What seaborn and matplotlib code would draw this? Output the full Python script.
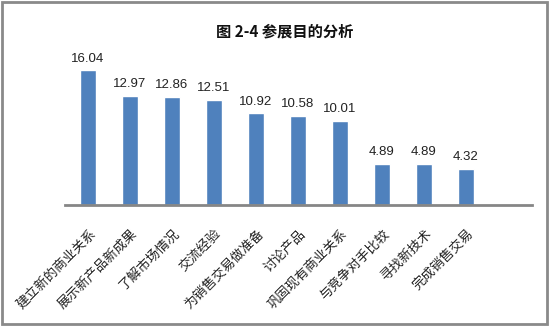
import matplotlib
matplotlib.use("Agg")
import matplotlib.pyplot as plt
import matplotlib.transforms as mtransforms
import seaborn as sns
import pandas as pd
from matplotlib.patches import Rectangle

categories = ["建立新的商业关系", "展示新产品新成果", "了解市场情况", "交流经验",
              "为销售交易做准备", "讨论产品", "巩固现有商业关系", "与竞争对手比较",
              "寻找新技术", "完成销售交易"]
values = [16.04, 12.97, 12.86, 12.51, 10.92, 10.58, 10.01, 4.89, 4.89, 4.32]
value_labels = ["16.04", "12.97", "12.86", "12.51", "10.92", "10.58", "10.01", "4.89", "4.89", "4.32"]
title = "图 2-4 参展目的分析"

sns.set_theme(style="white")
plt.rcParams['font.family'] = ['Noto Sans CJK SC', 'DejaVu Sans']

df = pd.DataFrame({"cat": categories, "val": values})

fig = plt.figure(figsize=(5.5, 3.27), dpi=100)
ax = fig.add_axes([0.118, 0.373, 0.849, 0.462])
sns.barplot(data=df, x="cat", y="val", color="#4F81BD", saturation=1, width=0.38, ax=ax)

ax.set_xlim(-0.55, 10.57)
ax.set_ylim(0, 18)
for s in ["top", "right", "left"]:
    ax.spines[s].set_visible(False)
ax.spines["bottom"].set_color("#868686")
ax.spines["bottom"].set_linewidth(2)
ax.set_yticks([])
ax.set_xlabel("")
ax.set_ylabel("")
ax.tick_params(axis="x", length=0, pad=16)
ax.set_xticks(range(len(categories)))
ax.set_xticklabels(categories, rotation=45, ha="right", va="top",
                   rotation_mode="anchor", fontsize=9.5, color="#222222",
                   fontweight="light")
offset = mtransforms.ScaledTranslation(1 / 100, 0, fig.dpi_scale_trans)
for lab in ax.get_xticklabels():
    lab.set_transform(lab.get_transform() + offset)

for i, (v, t) in enumerate(zip(values, value_labels)):
    ax.text(i, v + 0.7, t, ha="center", va="bottom", fontsize=9.5,
            color="#222222", family=["Liberation Sans", "DejaVu Sans"])

fig.text(0.517, 0.905, title, ha="center", va="center", fontsize=11,
         fontweight="bold", color="#111111")

fig.patches.append(Rectangle((0.004, 0.008), 0.99, 0.986, transform=fig.transFigure,
                             fill=False, edgecolor="#8a8a8a", linewidth=2))

fig.savefig("out.png", dpi=100)
